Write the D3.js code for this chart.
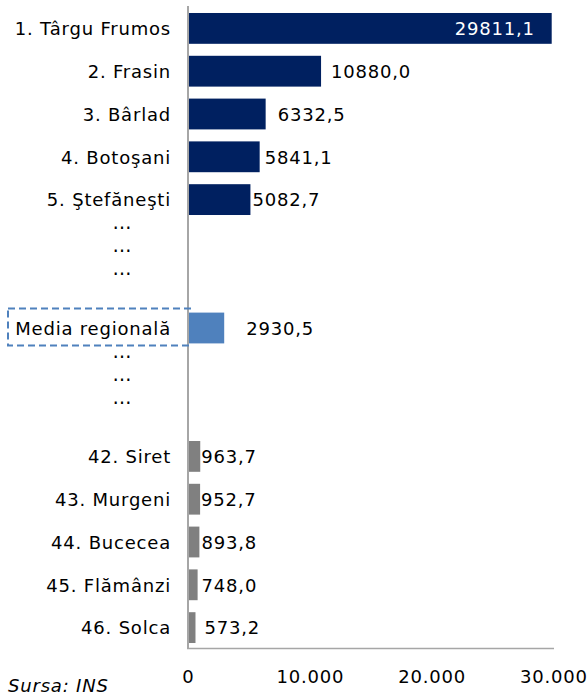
<!DOCTYPE html>
<html>
<head>
<meta charset="utf-8">
<script src="https://cdn.jsdelivr.net/npm/d3@7"></script>
<style>
    body { margin: 0; background: #fff; }
    svg text { font-family: "DejaVu Sans", sans-serif; font-size: 18px; letter-spacing: 0.8px; fill: #000; }
    svg text.dots { font-size: 19px; letter-spacing: 0; }
</style>
</head>
<body>
<svg id="chart" width="587" height="695"></svg>
<script>
// data (gaps are the empty rows holding the "…" markers)
const categories= [
    "1. Târgu Frumos", "2. Frasin", "3. Bârlad", "4. Botoşani", "5. Ştefăneşti",
    "gap1", "gap2", "Media regională", "gap3", "gap4",
    "42. Siret", "43. Murgeni", "44. Bucecea", "45. Flămânzi", "46. Solca",
]
const values= [
    29811.1, 10880.0, 6332.5, 5841.1, 5082.7,
    null, null, 2930.5, null, null,
    963.7, 952.7, 893.8, 748.0, 573.2,
]
const groups= [
    "top", "top", "top", "top", "top",
    "gap", "gap", "avg", "gap", "gap",
    "bottom", "bottom", "bottom", "bottom", "bottom",
]
const x_ticks= [0, 10000, 20000, 30000]
const source_note= "Sursa: INS"

// layout tweaks (label nudges as placed in the original)
const label_gap= [0, 10, 12, 5, 2, 0, 0, 22, 0, 0, 1, 1, 2, 4, 9]
const dot_rows= [{cat: "gap1", dy: -13}, {cat: "gap3", dy: -13}]

const colors= {top: "#002060", avg: "#4f81bd", bottom: "#808080"}

const ro= d3.formatLocale({decimal: ",", thousands: ".", grouping: [3], currency: ["", ""]})
const fmt_value= ro.format(".1f")
const fmt_tick= ro.format(",.0f")

const svg= d3.select("#chart")

const x= d3.scaleLinear()
    .domain([0, 30000])
    .range([188.5, 554])

const y= d3.scaleBand()
    .domain(categories)
    .range([7, 649])
    .paddingInner(0.28)
    .paddingOuter(0.14)

const rows= categories.map((c, i) => ({cat: c, value: values[i], group: groups[i], gap: label_gap[i]}))
const bars= rows.filter(d => d.value !== null)

// bars
svg.append("g")
    .selectAll("rect")
    .data(bars)
    .join("rect")
    .attr("x", x(0))
    .attr("y", d => y(d.cat))
    .attr("width", d => x(d.value) - x(0))
    .attr("height", y.bandwidth())
    .attr("fill", d => colors[d.group])

// axes lines
svg.append("line")
    .attr("x1", 188).attr("x2", 188)
    .attr("y1", 6).attr("y2", 649)
    .attr("stroke", "#a6a6a6").attr("stroke-width", 2)
svg.append("line")
    .attr("x1", 187).attr("x2", x(30000))
    .attr("y1", 648.5).attr("y2", 648.5)
    .attr("stroke", "#a6a6a6").attr("stroke-width", 1.5)

// x tick labels
svg.append("g")
    .selectAll("text")
    .data(x_ticks)
    .join("text")
    .attr("x", d => x(d))
    .attr("y", 683)
    .attr("text-anchor", "middle")
    .text(d => fmt_tick(d))

// category labels
const label_rows= rows.filter(d => d.group !== "gap")
svg.append("g")
    .selectAll("text")
    .data(label_rows)
    .join("text")
    .attr("x", 171)
    .attr("y", d => y(d.cat) + y.bandwidth()/2)
    .attr("dy", "0.38em")
    .attr("text-anchor", "end")
    .text(d => d.cat)

// dashed box round the regional average
const avg_label= label_rows.find(d => d.group === "avg")
svg.append("rect")
    .attr("x", 8).attr("y", y(avg_label.cat) - 4)
    .attr("width", 182).attr("height", 37)
    .attr("fill", "none")
    .attr("stroke", "#4f81bd")
    .attr("stroke-width", 2)
    .attr("stroke-dasharray", "7,4")

// "…" markers
dot_rows.forEach(g => {
    let cy= y(g.cat) + y.bandwidth()/2 + g.dy
    svg.append("g")
        .selectAll("text")
        .data([0, 1, 2])
        .join("text")
        .attr("class", "dots")
        .attr("x", 122)
        .attr("y", i => cy + i*23)
        .attr("text-anchor", "middle")
        .text("…")
})

// value labels
svg.append("g")
    .selectAll("text")
    .data(bars)
    .join("text")
    .attr("x", (d, i) => i === 0 ? x(d.value) - 17 : x(d.value) + d.gap)
    .attr("y", d => y(d.cat) + y.bandwidth()/2)
    .attr("dy", "0.38em")
    .attr("text-anchor", (d, i) => i === 0 ? "end" : "start")
    .style("fill", (d, i) => i === 0 ? "#fff" : "#000")
    .text(d => fmt_value(d.value))

// source
svg.append("text")
    .attr("x", 8)
    .attr("y", 692)
    .style("font-style", "italic")
    .text(source_note)
</script>
</body>
</html>
